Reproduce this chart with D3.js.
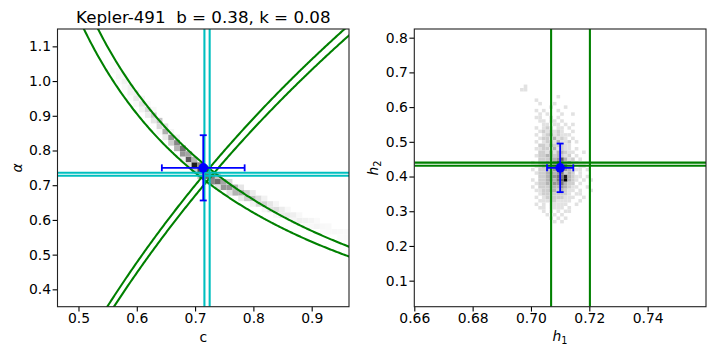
<!DOCTYPE html>
<html>
<head>
<meta charset="utf-8">
<script src="https://cdn.jsdelivr.net/npm/d3@7"></script>
<style>
  body { margin: 0; background: #fff; }
  text { font-family: "DejaVu Sans", sans-serif; fill: #000; }
  .tick line { stroke: #000; stroke-width: 1.1; }
</style>
</head>
<body>
<script>
// ---- data ----
var title = "Kepler-491  b = 0.38, k = 0.08";

// left panel ticks
var cTicks = [0.5, 0.6, 0.7, 0.8, 0.9];
var alphaTicks = [0.4, 0.5, 0.6, 0.7, 0.8, 0.9, 1.0, 1.1];
// right panel ticks
var h1Ticks = [0.66, 0.68, 0.70, 0.72, 0.74];
var h2Ticks = [0.1, 0.2, 0.3, 0.4, 0.5, 0.6, 0.7, 0.8];

// limits of h1 and h2 (green lines)
var h1Lines = [0.7069, 0.7202];
var h2Lines = [0.431, 0.440];
// limits of c and alpha (cyan lines)
var cLines = [0.716, 0.725];
var alphaLines = [0.736, 0.727];

// point with error bars: [x, y, xerr, yerr]
var leftPoint = [0.714, 0.750, 0.071, 0.094];
var rightPoint = [0.710, 0.425, 0.0045, 0.070];

// left histogram cells: [c centre, alpha centre, shade 0-1]; bins 0.01 x 0.016
var cBin = 0.01, alphaBin = 0.016;
var leftCells = [
  [0.559,1.046,0.03],[0.559,1.030,0.05],
  [0.569,1.030,0.06],[0.569,1.014,0.08],[0.569,0.998,0.03],
  [0.579,1.014,0.05],[0.579,0.998,0.10],[0.579,0.982,0.06],
  [0.589,0.982,0.12],[0.589,0.966,0.10],[0.589,0.950,0.03],
  [0.599,0.966,0.10],[0.599,0.950,0.16],[0.599,0.934,0.06],
  [0.609,0.950,0.08],[0.609,0.934,0.20],[0.609,0.918,0.10],
  [0.619,0.918,0.25],[0.619,0.902,0.14],[0.619,0.934,0.05],
  [0.629,0.902,0.30],[0.629,0.886,0.18],[0.629,0.918,0.06],
  [0.639,0.886,0.33],[0.639,0.870,0.25],[0.639,0.854,0.06],
  [0.649,0.854,0.42],[0.649,0.870,0.20],[0.649,0.838,0.15],
  [0.659,0.838,0.50],[0.659,0.822,0.30],[0.659,0.854,0.08],
  [0.669,0.822,0.55],[0.669,0.806,0.40],[0.669,0.838,0.10],
  [0.679,0.806,0.62],[0.679,0.790,0.50],[0.679,0.774,0.10],
  [0.689,0.774,0.72],[0.689,0.790,0.45],[0.689,0.758,0.20],
  [0.699,0.758,0.90],[0.699,0.774,0.40],[0.699,0.742,0.30],
  [0.709,0.742,0.75],[0.709,0.758,0.55],[0.709,0.726,0.35],
  [0.719,0.742,0.55],[0.719,0.726,0.65],[0.719,0.710,0.25],
  [0.729,0.726,0.60],[0.729,0.710,0.55],
  [0.739,0.710,0.65],[0.739,0.726,0.35],[0.739,0.694,0.20],
  [0.749,0.710,0.45],[0.749,0.694,0.50],
  [0.759,0.694,0.50],[0.759,0.710,0.25],[0.759,0.678,0.20],
  [0.769,0.694,0.38],[0.769,0.678,0.40],
  [0.779,0.678,0.42],[0.779,0.694,0.18],[0.779,0.662,0.15],
  [0.789,0.678,0.30],[0.789,0.662,0.30],
  [0.799,0.662,0.35],[0.799,0.678,0.15],[0.799,0.646,0.10],
  [0.809,0.662,0.22],[0.809,0.646,0.25],
  [0.819,0.646,0.28],[0.819,0.662,0.10],[0.819,0.630,0.08],
  [0.829,0.646,0.18],[0.829,0.630,0.20],
  [0.839,0.630,0.22],[0.839,0.646,0.08],[0.839,0.614,0.06],
  [0.849,0.630,0.14],[0.849,0.614,0.15],
  [0.859,0.614,0.16],[0.859,0.630,0.06],
  [0.869,0.614,0.12],[0.869,0.598,0.08],
  [0.879,0.598,0.12],[0.879,0.614,0.06],
  [0.889,0.598,0.10],[0.889,0.582,0.05],
  [0.899,0.598,0.08],[0.899,0.582,0.06],
  [0.909,0.582,0.08],[0.909,0.598,0.04],
  [0.919,0.582,0.06],[0.919,0.566,0.04],
  [0.929,0.582,0.05],[0.929,0.566,0.05],
  [0.939,0.566,0.06],
  [0.949,0.566,0.05],[0.949,0.550,0.03],
  [0.959,0.566,0.04],[0.959,0.550,0.04]
];

// right histogram: shade 0-9, rows from h2 = 0.695 downwards, columns from h1 = 0.695
var h1Start = 0.695, h1Bin = 0.00125;
var h2Top = 0.695, h2Bin = 0.01;
var rightGrid = [
  "000000000000000000000000",
  "000000000000000000000000",
  "000000000000000000000000",
  "001000000000000000000000",
  "011000000000000000000000",
  "000000000000000000000000",
  "000000000001000000000000",
  "000001000000000000000000",
  "000000100010000000000000",
  "000000000100010000000000",
  "000001010001000000000000",
  "000000101000100100000000",
  "000001100101000000000000",
  "000000110110100000000000",
  "000000011011010100000000",
  "000001012101101000000000",
  "000000121212100100000000",
  "000001012312111000000000",
  "000000122131210100000000",
  "000001012213112010000000",
  "000000221322211000000000",
  "000001122131211010000000",
  "000000221313321100100000",
  "000001223323212010000000",
  "000000222334631201000000",
  "000010223246423110000000",
  "000001233345262101100000",
  "000010223346543211010000",
  "000001223434523201000000",
  "000000223445583211010000",
  "000010223435693210101000",
  "000001223344532201000000",
  "000010222333432110010000",
  "000001122332321101001000",
  "000000122222221011000000",
  "000001012222211100100000",
  "000000111221111001000000",
  "000001010111110010000000",
  "000000110111101000000000",
  "000000010101011000000000",
  "000000001010100000000000",
  "000000000101010000000000",
  "000000000010100000000000"
];

// ---- layout ----
var width = 720, height = 360;
var lw = 2.08;
var plotTop = 29, plotBottom = 306.7;

var svg = d3.select("body").append("svg")
    .attr("width", width)
    .attr("height", height);

var xL = d3.scaleLinear().domain([0.464, 0.964]).range([57.5, 349]);
var yL = d3.scaleLinear().domain([0.35, 1.15]).range([plotBottom, plotTop]);
var xR = d3.scaleLinear().domain([0.66, 0.76]).range([414.3, 706]);
var yR = d3.scaleLinear().domain([0.025, 0.825]).range([plotBottom, plotTop]);

// clip paths for both panels
var defs = svg.append("defs");
defs.append("clipPath").attr("id", "clipL").append("rect")
    .attr("x", 57.5).attr("y", plotTop).attr("width", 349 - 57.5).attr("height", plotBottom - plotTop);
defs.append("clipPath").attr("id", "clipR").append("rect")
    .attr("x", 414.3).attr("y", plotTop).attr("width", 706 - 414.3).attr("height", plotBottom - plotTop);

var leftG = svg.append("g").attr("clip-path", "url(#clipL)");
var rightG = svg.append("g").attr("clip-path", "url(#clipR)");

// ---- left panel: 2d histogram ----
leftG.selectAll(".cell")
  .data(leftCells)
  .enter().append("rect")
    .attr("class", "cell")
    .attr("x", function(d){ return xL(d[0] - cBin/2); })
    .attr("y", function(d){ return yL(d[1] + alphaBin/2); })
    .attr("width", function(d){ return xL(d[0] + cBin/2) - xL(d[0] - cBin/2); })
    .attr("height", function(d){ return yL(d[1] - alphaBin/2) - yL(d[1] + alphaBin/2); })
    .attr("fill", function(d){ return d3.interpolateGreys(d[2]); });

// green curves: the h1 and h2 limits mapped into (c, alpha) with the power-2 law
// h1 = 1 - c(1 - 2^-alpha), h2 = c 2^-alpha
var cSamples = d3.range(0.30, 0.98, 0.002);
var line = d3.line().x(function(d){ return xL(d[0]); }).y(function(d){ return yL(d[1]); });

h1Lines.forEach(function(h1){
  var pts = [];
  cSamples.forEach(function(c){
    var t = 1 - (1 - h1)/c;
    if (t > 0.25) pts.push([c, -Math.log2(t)]);
  });
  leftG.append("path").attr("d", line(pts))
      .attr("fill", "none").attr("stroke", "green").attr("stroke-width", lw);
});
h2Lines.forEach(function(h2){
  var pts = cSamples.map(function(c){ return [c, Math.log2(c/h2)]; });
  leftG.append("path").attr("d", line(pts))
      .attr("fill", "none").attr("stroke", "green").attr("stroke-width", lw);
});

// cyan lines
leftG.selectAll(".cline")
  .data(cLines)
  .enter().append("line")
    .attr("x1", function(d){ return xL(d); }).attr("x2", function(d){ return xL(d); })
    .attr("y1", plotTop).attr("y2", plotBottom)
    .attr("stroke", "#00bfbf").attr("stroke-width", lw);
leftG.selectAll(".aline")
  .data(alphaLines)
  .enter().append("line")
    .attr("y1", function(d){ return yL(d); }).attr("y2", function(d){ return yL(d); })
    .attr("x1", 57.5).attr("x2", 349)
    .attr("stroke", "#00bfbf").attr("stroke-width", lw);

// ---- right panel: 2d histogram ----
var shade = d3.scaleSequential(d3.interpolateGreys).domain([-1, 9]);
var rightCells = [];
rightGrid.forEach(function(row, r){
  row.split("").forEach(function(ch, k){
    if (ch != "0") rightCells.push([h1Start + k*h1Bin, h2Top - r*h2Bin, +ch]);
  });
});
rightG.selectAll(".cell")
  .data(rightCells)
  .enter().append("rect")
    .attr("class", "cell")
    .attr("x", function(d){ return xR(d[0]); })
    .attr("y", function(d){ return yR(d[1]); })
    .attr("width", function(d){ return xR(d[0] + h1Bin) - xR(d[0]); })
    .attr("height", function(d){ return yR(d[1] - h2Bin) - yR(d[1]); })
    .attr("fill", function(d){ return shade(d[2]); });

rightG.selectAll(".h1line")
  .data(h1Lines)
  .enter().append("line")
    .attr("x1", function(d){ return xR(d); }).attr("x2", function(d){ return xR(d); })
    .attr("y1", plotTop).attr("y2", plotBottom)
    .attr("stroke", "green").attr("stroke-width", lw);
rightG.selectAll(".h2line")
  .data(h2Lines)
  .enter().append("line")
    .attr("y1", function(d){ return yR(d); }).attr("y2", function(d){ return yR(d); })
    .attr("x1", 414.3).attr("x2", 706)
    .attr("stroke", "green").attr("stroke-width", lw);

// ---- error bars ----
function errorbar(g, p, x, y) {
  var cx = x(p[0]), cy = y(p[1]);
  var x0 = x(p[0] - p[2]), x1 = x(p[0] + p[2]);
  var y0 = y(p[1] - p[3]), y1 = y(p[1] + p[3]);
  var cap = 3.5;
  var segs = [
    [x0, cy, x1, cy], [cx, y0, cx, y1],
    [x0, cy - cap, x0, cy + cap], [x1, cy - cap, x1, cy + cap],
    [cx - cap, y0, cx + cap, y0], [cx - cap, y1, cx + cap, y1]
  ];
  g.selectAll(".eb").data(segs).enter().append("line")
      .attr("x1", function(d){ return d[0]; }).attr("y1", function(d){ return d[1]; })
      .attr("x2", function(d){ return d[2]; }).attr("y2", function(d){ return d[3]; })
      .attr("stroke", "blue").attr("stroke-width", 1.8);
  g.append("circle").attr("cx", cx).attr("cy", cy).attr("r", 4.8).attr("fill", "blue");
}
errorbar(svg.append("g"), leftPoint, xL, yL);
errorbar(svg.append("g"), rightPoint, xR, yR);

// ---- axes ----
function axes(x, y, xt, yt, xfmt, yfmt) {
  svg.append("g").attr("transform", "translate(0," + plotBottom + ")")
    .call(d3.axisBottom(x).tickValues(xt).tickFormat(d3.format(xfmt)).tickSize(4.9).tickPadding(2).tickSizeOuter(0))
    .call(function(g){ g.select(".domain").remove(); });
  svg.append("g").attr("transform", "translate(" + x.range()[0] + ",0)")
    .call(d3.axisLeft(y).tickValues(yt).tickFormat(d3.format(yfmt)).tickSize(4.9).tickPadding(1.5).tickSizeOuter(0))
    .call(function(g){ g.select(".domain").remove(); });
  svg.append("rect")
    .attr("x", x.range()[0]).attr("y", plotTop)
    .attr("width", x.range()[1] - x.range()[0]).attr("height", plotBottom - plotTop)
    .attr("fill", "none").attr("stroke", "#222").attr("stroke-width", 1.1);
}
axes(xL, yL, cTicks, alphaTicks, ".1f", ".1f");
axes(xR, yR, h1Ticks, h2Ticks, ".2f", ".1f");
svg.selectAll(".tick text")
    .attr("font-family", "DejaVu Sans")
    .style("font-size", "13.9px")
    .attr("fill", "#000");

// title
svg.append("text")
    .attr("x", 203.3).attr("y", 23)
    .attr("text-anchor", "middle")
    .style("font-size", "16.7px")
    .style("white-space", "pre")
    .text(title);

// axis labels
svg.append("text")
    .attr("x", 203.3).attr("y", 342)
    .attr("text-anchor", "middle")
    .style("font-size", "13.9px")
    .text("c");
svg.append("text")
    .attr("transform", "translate(22,168) rotate(-90)")
    .attr("text-anchor", "middle")
    .style("font-size", "13.9px").style("font-style", "italic")
    .text("\u03b1");

var h1Label = svg.append("text")
    .attr("x", 560).attr("y", 341)
    .attr("text-anchor", "middle")
    .style("font-size", "13.9px");
h1Label.append("tspan").style("font-style", "italic").text("h");
h1Label.append("tspan").attr("dy", 3).style("font-size", "9.7px").text("1");

var h2Label = svg.append("text")
    .attr("transform", "translate(378,168) rotate(-90)")
    .attr("text-anchor", "middle")
    .style("font-size", "13.9px");
h2Label.append("tspan").style("font-style", "italic").text("h");
h2Label.append("tspan").attr("dy", 3).style("font-size", "9.7px").text("2");
</script>
</body>
</html>
